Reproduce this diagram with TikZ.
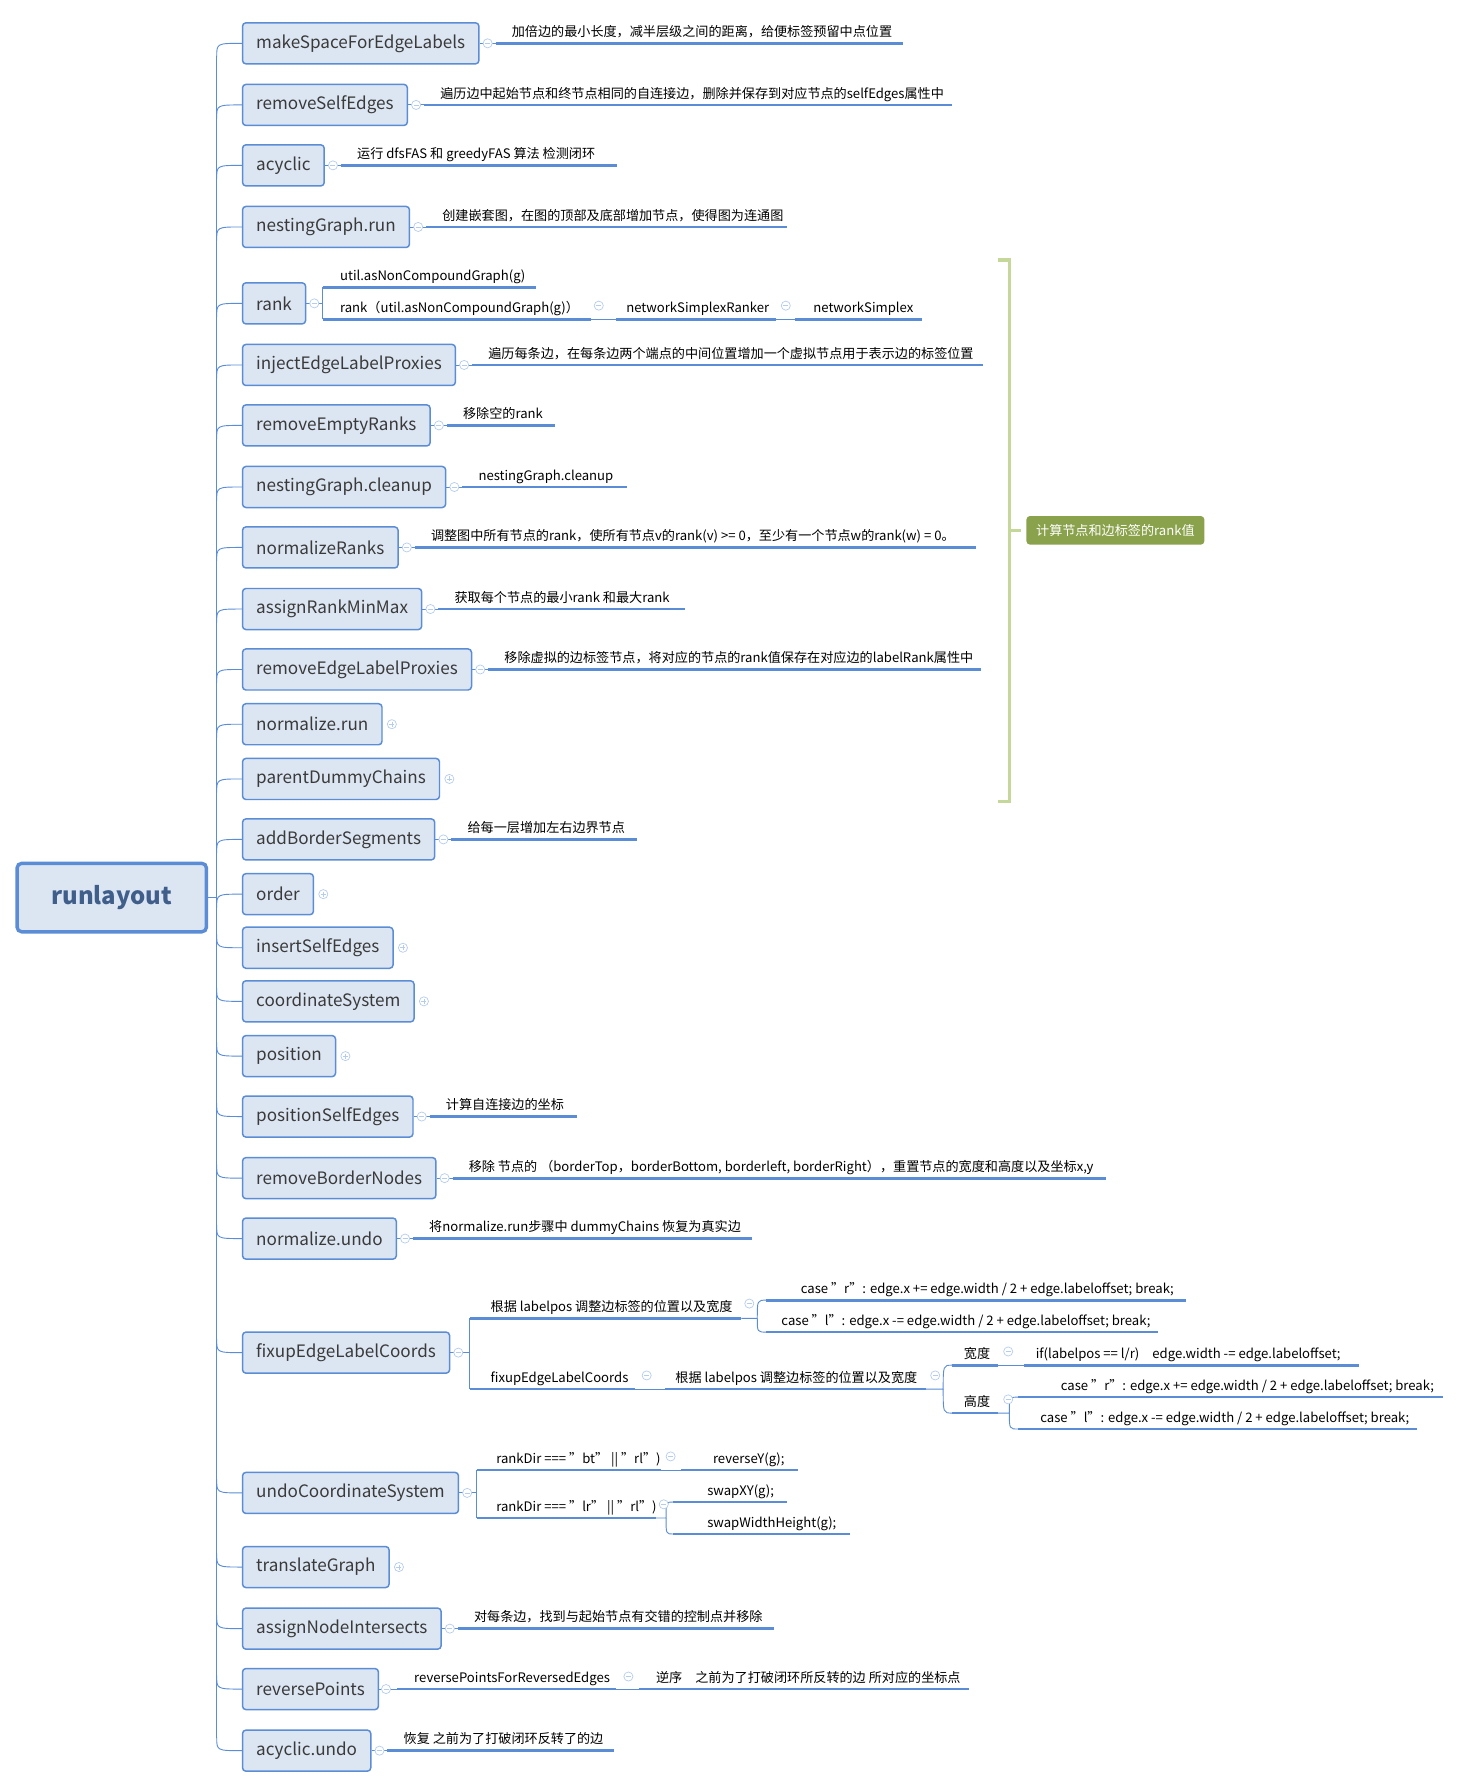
\documentclass[tikz,border=0pt]{standalone}
\usepackage{fontspec}
\setmainfont{Noto Sans CJK SC}
\usetikzlibrary{calc}
\definecolor{mblue}{HTML}{5B8DD6}
\definecolor{boxfill}{HTML}{DCE6F2}
\definecolor{boxtext}{HTML}{3A3A3A}
\definecolor{rootblue}{HTML}{3F5E8A}
\definecolor{braceg}{HTML}{C5D89A}
\definecolor{tagg}{HTML}{8AA24B}
\tikzset{
  stepbox/.style={draw=mblue, fill=boxfill, rounded corners=3pt, line width=1.3pt,
    minimum height=36pt, inner xsep=12pt, anchor=west, text=boxtext,
    font=\fontsize{15}{18}\selectfont},
  rootbox/.style={draw=mblue, fill=boxfill, rounded corners=4pt, line width=3pt,
    minimum width=166pt, minimum height=60pt, text=rootblue,
    font=\fontsize{21}{24}\selectfont\bfseries},
  leaftext/.style={anchor=base west, inner sep=0pt, text=black,
    font=\fontsize{11.5}{13}\selectfont},
  uline/.style={draw=mblue, line width=2.4pt},
  link/.style={draw=mblue, line width=0.8pt},
  foldc/.style={draw=mblue!45, line width=0.6pt},
  foldmin/.pic={\draw[foldc, fill=white] (0,0) circle (4); \draw[foldc] (-2.2,0) -- (2.2,0);},
  foldpls/.pic={\draw[foldc, fill=white] (0,0) circle (4); \draw[foldc] (-2.2,0) -- (2.2,0) (0,-2.2) -- (0,2.2);}
}
% simple note after a step box: box, line length, text
\newcommand\note[3]{%
  \path (#1.east) ++(14,0) coordinate (#1-l) ++(#2,0) coordinate (#1-r);
  \node[leaftext] (#1-t) at ($(#1-l)+(14,-6)$) {#3};
  \draw[link] (#1.east) -- (#1-l);
  \draw[uline] (#1-l) -- (#1-r);
  \pic at ($(#1.east)+(7,0)$) {foldmin};
}
% free leaf: name, x1, x2, y, text x, text
\newcommand\leaf[6]{%
  \coordinate (#1-l) at (#2,#4); \coordinate (#1-r) at (#3,#4);
  \node[leaftext] (#1) at (#5,#4-6) {#6};
  \draw[uline] (#1-l) -- (#1-r);
}
\begin{document}
\begin{tikzpicture}[x=1pt,y=-1pt]
\useasboundingbox[fill=white] (0,0) rectangle (1280,1566);

\node[rootbox] (root) at (98,787) {runlayout};

\foreach \n/\t/\y in {mkSpace/makeSpaceForEdgeLabels/38, rmSelf/removeSelfEdges/92,
    acyc/acyclic/145, nestRun/nestingGraph.run/199, rank/rank/266,
    injELP/injectEdgeLabelProxies/320, rmEmpty/removeEmptyRanks/373,
    nestClean/nestingGraph.cleanup/427, normRanks/normalizeRanks/480,
    asgRank/assignRankMinMax/534, rmELP/removeEdgeLabelProxies/587,
    normRun/normalize.run/635, parentDC/parentDummyChains/683,
    addBorder/addBorderSegments/736, order/order/784, insSelf/insertSelfEdges/831,
    coordSys/coordinateSystem/878, position/position/926, posSelf/positionSelfEdges/979,
    rmBorder/removeBorderNodes/1033, normUndo/normalize.undo/1086,
    fixup/fixupEdgeLabelCoords/1186, undoCS/undoCoordinateSystem/1309,
    translate/translateGraph/1374, asgNI/assignNodeIntersects/1428,
    revPts/reversePoints/1481, acycUndo/acyclic.undo/1535} {
  \node[stepbox] (\n) at (212,\y) {\t};
  \pgfmathsetmacro\s{\y<787 ? 12 : -12}
  \draw[link] (190,\y+\s) .. controls (190,\y) .. (\n.west);
}
\draw[link] (190,50) -- (190,1523);
\draw[link] (root.east) -- (190,787);

\foreach \n in {normRun, parentDC, order, insSelf, coordSys, position, translate}
  \pic at ($(\n.east)+(8,0)$) {foldpls};

\note{mkSpace}{357}{加倍边的最小长度，减半层级之间的距离，给便标签预留中点位置}
\note{rmSelf}{463}{遍历边中起始节点和终节点相同的自连接边，删除并保存到对应节点的selfEdges属性中}
\note{acyc}{242}{运行 dfsFAS 和 greedyFAS 算法 检测闭环}
\note{nestRun}{316}{创建嵌套图，在图的顶部及底部增加节点，使得图为连通图}
\note{injELP}{448}{遍历每条边，在每条边两个端点的中间位置增加一个虚拟节点用于表示边的标签位置}
\note{rmEmpty}{95}{移除空的rank}
\note{nestClean}{144}{nestingGraph.cleanup}
\note{normRanks}{492}{调整图中所有节点的rank，使所有节点v的rank(v) >= 0，至少有一个节点w的rank(w) = 0。}
\note{asgRank}{216}{获取每个节点的最小rank 和最大rank}
\note{rmELP}{432}{移除虚拟的边标签节点，将对应的节点的rank值保存在对应边的labelRank属性中}
\note{addBorder}{163}{给每一层增加左右边界节点}
\note{posSelf}{129}{计算自连接边的坐标}
\note{rmBorder}{573}{移除 节点的 （borderTop，borderBottom, borderleft, borderRight），重置节点的宽度和高度以及坐标x,y}
\note{normUndo}{297}{将normalize.run步骤中 dummyChains 恢复为真实边}
\note{asgNI}{277}{对每条边，找到与起始节点有交错的控制点并移除}
\note{acycUndo}{199}{恢复 之前为了打破闭环反转了的边}

% rank
\leaf{util}{283}{470}{252}{298}{util.asNonCompoundGraph(g)}
\leaf{rankg}{283}{518}{280}{298}{rank（util.asNonCompoundGraph(g)）}
\leaf{nsRanker}{540}{680}{280}{549}{networkSimplexRanker}
\leaf{nSimplex}{697}{808}{280}{713}{networkSimplex}
\draw[link] (rank.east) -- (283,266);
\draw[link] (util-l) -- (rankg-l);
\draw[link] (rankg-r) -- (nsRanker-l) (nsRanker-r) -- (nSimplex-l);
\pic at ($(rank.east)+(7,0)$) {foldmin};
\pic at (525,268) {foldmin};
\pic at (689,268) {foldmin};

% fixupEdgeLabelCoords
\leaf{fxA}{412}{650}{1156}{430}{根据 labelpos 调整边标签的位置以及宽度}
\leaf{fxAr}{672}{1040}{1140}{702}{case "r": edge.x += edge.width / 2 + edge.labeloffset; break;}
\leaf{fxAl}{672}{1015}{1168}{685}{case "l": edge.x -= edge.width / 2 + edge.labeloffset; break;}
\leaf{fxB}{412}{557}{1218}{430}{fixupEdgeLabelCoords}
\leaf{fxC}{583}{812}{1218}{592}{根据 labelpos 调整边标签的位置以及宽度}
\leaf{fxW}{835}{875}{1197}{845}{宽度}
\leaf{fxWi}{898}{1192}{1197}{908}{if(labelpos == l/r)\quad edge.width -= edge.labeloffset;}
\leaf{fxH}{835}{875}{1239}{845}{高度}
\leaf{fxHr}{893}{1265}{1225}{930}{case "r": edge.x += edge.width / 2 + edge.labeloffset; break;}
\leaf{fxHl}{893}{1242}{1253}{912}{case "l": edge.x -= edge.width / 2 + edge.labeloffset; break;}
\draw[link] (fixup.east) -- (412,1186);
\draw[link] (fxA-l) -- (fxB-l);
\draw[link] (fxA-r) -- (664,1156) .. controls (664,1140) .. (fxAr-l);
\draw[link] (664,1156) .. controls (664,1168) .. (fxAl-l);
\draw[link] (fxB-r) -- (fxC-l);
\draw[link] (fxC-r) -- (827,1218) .. controls (827,1197) .. (fxW-l);
\draw[link] (827,1218) .. controls (827,1239) .. (fxH-l);
\draw[link] (fxW-r) -- (fxWi-l);
\draw[link] (fxH-r) -- (885,1239) .. controls (885,1225) .. (fxHr-l);
\draw[link] (885,1239) .. controls (885,1253) .. (fxHl-l);
\pic at ($(fixup.east)+(7,0)$) {foldmin};
\pic at (657,1143) {foldmin};
\pic at (567,1206) {foldmin};
\pic at (820,1206) {foldmin};
\pic at (884,1185) {foldmin};
\pic at (884,1227) {foldmin};

% undoCoordinateSystem
\leaf{ucA}{418}{580}{1289}{435}{rankDir === "bt" || "rl")}
\leaf{ucAy}{597}{700}{1289}{625}{reverseY(g);}
\leaf{ucB}{418}{575}{1331}{435}{rankDir === "lr" || "rl")}
\leaf{ucBx}{590}{690}{1317}{620}{swapXY(g);}
\leaf{ucBw}{590}{745}{1345}{620}{swapWidthHeight(g);}
\draw[link] (undoCS.east) -- (418,1309);
\draw[link] (ucA-l) -- (ucB-l);
\draw[link] (ucA-r) -- (ucAy-l);
\draw[link] (ucB-r) -- (584,1331) .. controls (584,1317) .. (ucBx-l);
\draw[link] (584,1331) .. controls (584,1345) .. (ucBw-l);
\pic at ($(undoCS.east)+(7,0)$) {foldmin};
\pic at (588,1277) {foldmin};
\pic at (582,1319) {foldmin};

% reversePoints
\leaf{rpA}{348}{540}{1481}{363}{reversePointsForReversedEdges}
\leaf{rpB}{560}{850}{1481}{575}{逆序\quad 之前为了打破闭环所反转的边 所对应的坐标点}
\draw[link] (revPts.east) -- (rpA-l);
\draw[link] (rpA-r) -- (rpB-l);
\pic at ($(revPts.east)+(6,0)$) {foldmin};
\pic at (551,1470) {foldmin};

% bracket over the rank steps
\draw[braceg, line width=3pt] (875,228) -- (885,228) -- (885,703) -- (875,703);
\draw[braceg, line width=3pt] (885,465) -- (895,465);
\node[fill=tagg, rounded corners=3pt, text=white, minimum width=156pt, minimum height=25pt,
  inner sep=2pt, font=\fontsize{11.5}{13}\selectfont\itshape] (tag) at (978,465) {计算节点和边标签的rank值};
\end{tikzpicture}
\end{document}
